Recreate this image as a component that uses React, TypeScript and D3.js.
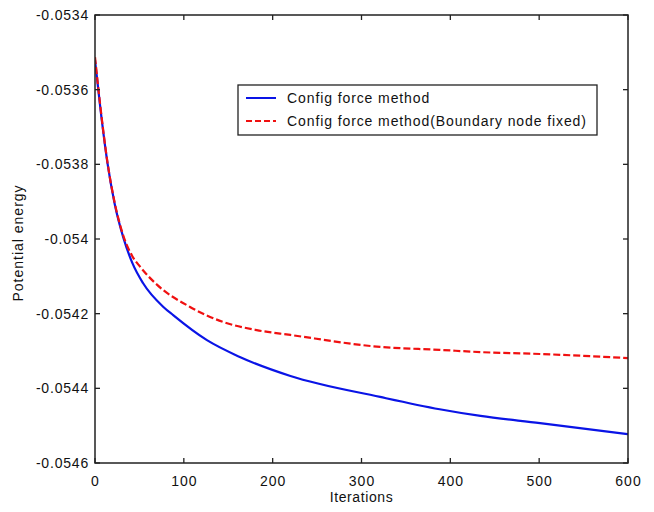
import React from "react";
import * as d3 from "d3";

const blueIter = [0, 6, 14, 22, 32, 42, 54, 77, 88, 126, 163, 220, 321, 388, 434, 501, 600];
const blueVals = [-0.053521, -0.053649, -0.053796, -0.053904, -0.053997, -0.054064, -0.054118, -0.054182, -0.054204, -0.054271, -0.054316, -0.054367, -0.054423, -0.054456, -0.054474, -0.054493, -0.054523];

const redIter = [0, 6, 14, 22, 32, 42, 51, 70, 107, 144, 182, 220, 321, 388, 434, 501, 600];
const redVals = [-0.053513, -0.053644, -0.053794, -0.053901, -0.053992, -0.054046, -0.054075, -0.054123, -0.054182, -0.054222, -0.054244, -0.054257, -0.054289, -0.054297, -0.054303, -0.054308, -0.054319];

const xTicks = [0, 100, 200, 300, 400, 500, 600];
const yTicks = [-0.0534, -0.0536, -0.0538, -0.054, -0.0542, -0.0544, -0.0546];
const yTickLabels = ["-0.0534", "-0.0536", "-0.0538", "-0.054", "-0.0542", "-0.0544", "-0.0546"];
const seriesNames = ["Config force method", "Config force method(Boundary node fixed)"];

const W = 654, H = 512;
const L = 95, R = 628, T = 15, B = 463;
const FONT = "'Liberation Sans', Arial, sans-serif";

export default function App() {
  const x = d3.scaleLinear().domain([0, 600]).range([L, R]);
  const y = d3.scaleLinear().domain([-0.0546, -0.0534]).range([B, T]);
  const line = d3
    .line<[number, number]>()
    .x((d) => x(d[0]))
    .y((d) => y(d[1]))
    .curve(d3.curveMonotoneX);
  const blue = line(blueIter.map((v, i) => [v, blueVals[i]] as [number, number])) || "";
  const red = line(redIter.map((v, i) => [v, redVals[i]] as [number, number])) || "";
  const tl = 5;
  return (
    <svg width={W} height={H} style={{ position: "absolute", left: 0, top: 0, background: "#fff" }}>
      <rect x={0} y={0} width={W} height={H} fill="#fff" />
      <defs>
        <clipPath id="clip">
          <rect x={L} y={T} width={R - L} height={B - T} />
        </clipPath>
      </defs>
      <g clipPath="url(#clip)">
        <path d={blue} fill="none" stroke="#0a14e6" strokeWidth={2.2} />
        <path d={red} fill="none" stroke="#f01010" strokeWidth={2.2} strokeDasharray="7,3" />
      </g>
      <rect x={L} y={T} width={R - L} height={B - T} fill="none" stroke="#222" strokeWidth={1.5} />
      {xTicks.map((t) => (
        <g key={"x" + t}>
          <line x1={x(t)} x2={x(t)} y1={B} y2={B - tl} stroke="#222" strokeWidth={1.3} />
          <line x1={x(t)} x2={x(t)} y1={T} y2={T + tl} stroke="#222" strokeWidth={1.3} />
          <text x={x(t) + 0.5} y={486} textAnchor="middle" fontFamily={FONT} fontSize={14} letterSpacing={1} fill="#111">
            {t}
          </text>
        </g>
      ))}
      {yTicks.map((t, i) => (
        <g key={"y" + i}>
          <line x1={L} x2={L + tl} y1={y(t)} y2={y(t)} stroke="#222" strokeWidth={1.3} />
          <line x1={R} x2={R - tl} y1={y(t)} y2={y(t)} stroke="#222" strokeWidth={1.3} />
          <text x={89} y={y(t) + 5} textAnchor="end" fontFamily={FONT} fontSize={14} letterSpacing={0.8} fill="#111">
            {yTickLabels[i]}
          </text>
        </g>
      ))}
      <text x={(L + R) / 2} y={502} textAnchor="middle" fontFamily={FONT} fontSize={14} letterSpacing={0.6} fill="#111">
        Iterations
      </text>
      <text
        transform={`translate(23, ${(T + B) / 2 + 4}) rotate(-90)`}
        textAnchor="middle"
        fontFamily={FONT}
        fontSize={14}
        fill="#111"
        letterSpacing={1}
      >
        Potential energy
      </text>
      <g>
        <rect x={238} y={85} width={359} height={50} fill="#fff" stroke="#222" strokeWidth={1.3} />
        <line x1={246} x2={276} y1={98} y2={98} stroke="#0a14e6" strokeWidth={2} />
        <line x1={246} x2={276} y1={121} y2={121} stroke="#f01010" strokeWidth={2} strokeDasharray="6,3" />
        <text x={287} y={103} fontFamily={FONT} fontSize={14} letterSpacing={0.9} fill="#111">
          {seriesNames[0]}
        </text>
        <text x={287} y={126} fontFamily={FONT} fontSize={14} letterSpacing={0.9} fill="#111">
          {seriesNames[1]}
        </text>
      </g>
    </svg>
  );
}
